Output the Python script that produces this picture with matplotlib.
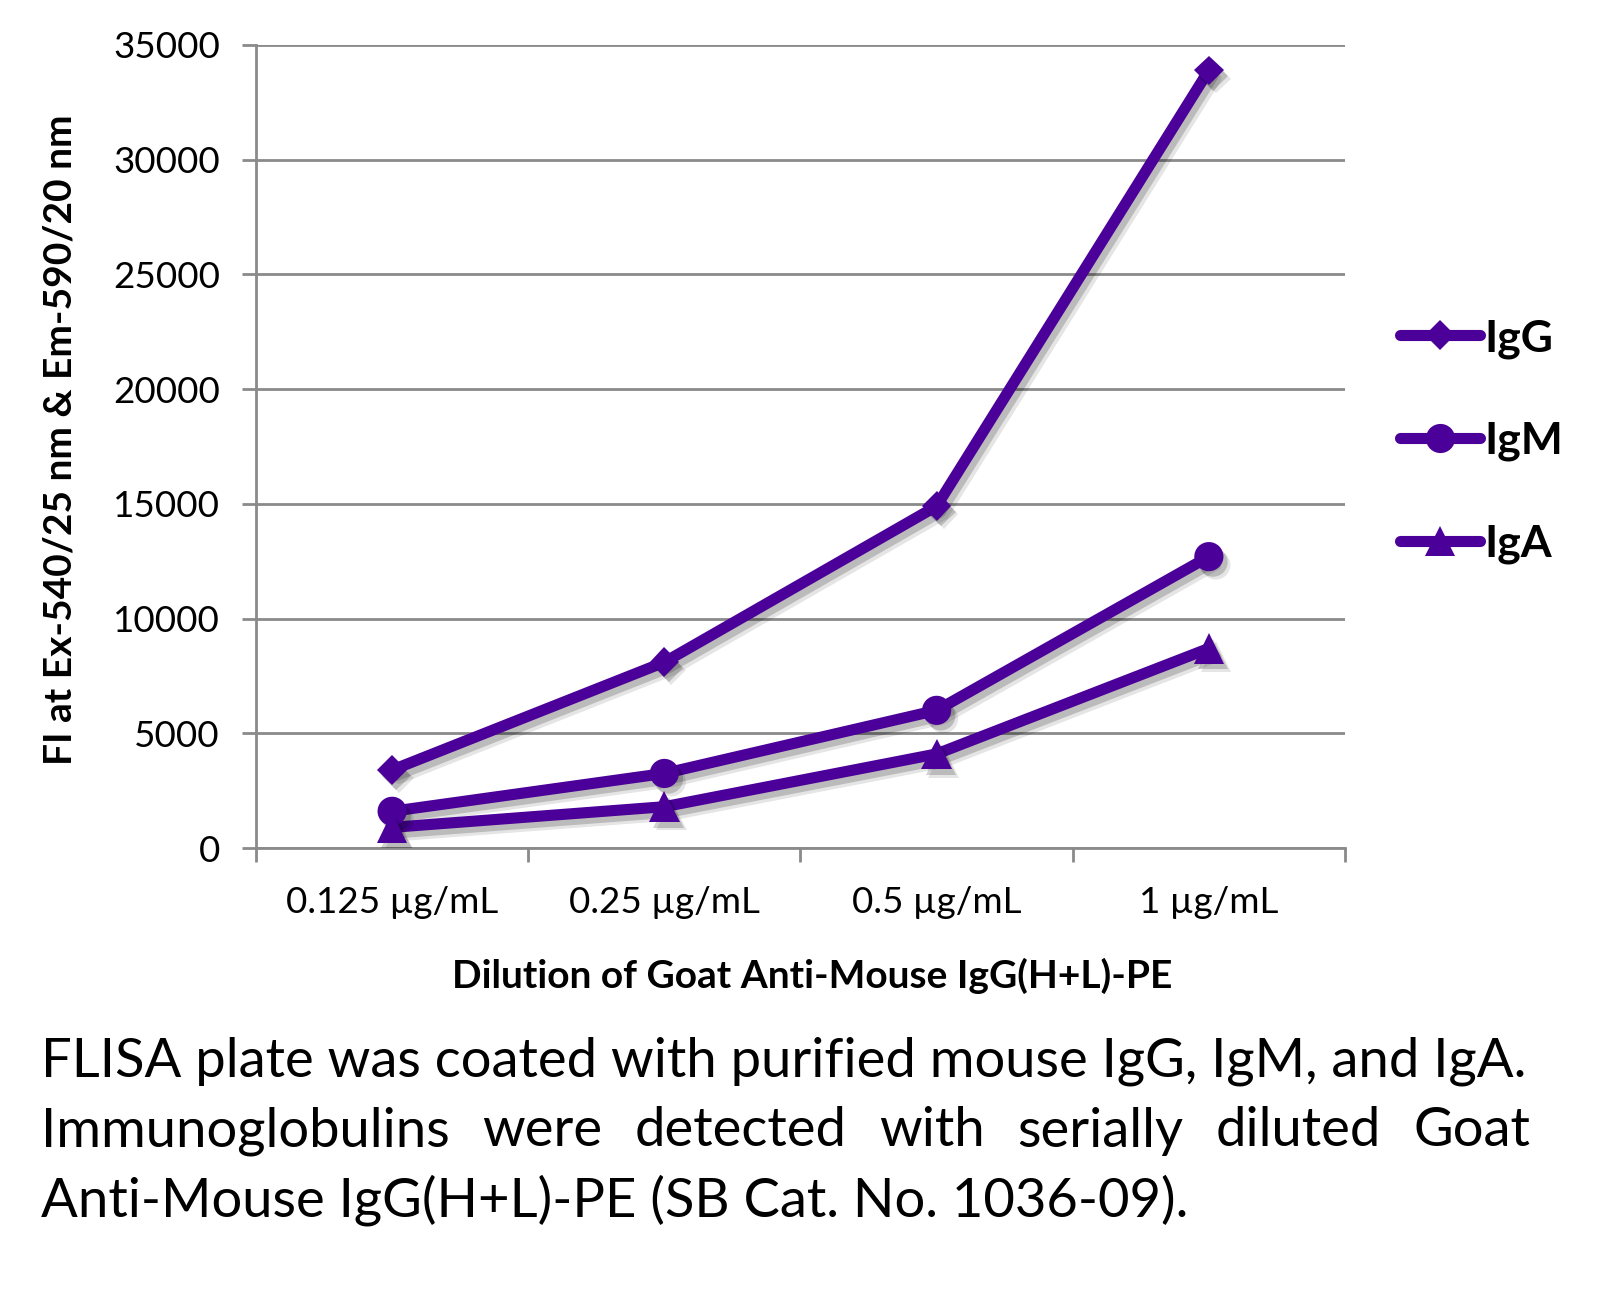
import numpy as np
import matplotlib.pyplot as plt
from matplotlib import patheffects as pe
from matplotlib.lines import Line2D

plt.rcParams['font.family'] = ['Lato', 'DejaVu Sans']

# Data
categories = ['0.125 µg/mL', '0.25 µg/mL', '0.5 µg/mL', '1 µg/mL']
igg = [3400, 8100, 14900, 33900]
igm = [1600, 3250, 6000, 12700]
iga = [900, 1800, 4100, 8700]

purple = '#4a0099'
grid_gray = '#8a8a8a'

W, H = 1608, 1306
fig = plt.figure(figsize=(W / 100, H / 100), dpi=100)
ax = fig.add_axes([256 / W, 1 - 848 / H, (1345 - 256) / W, (848 - 45) / H])

x = np.arange(len(categories))
# soft-ish drop shadow: a few offset copies with low alpha
line_shadow = [pe.SimpleLineShadow(offset=(3, -4), shadow_color='black', alpha=0.18),
               pe.SimpleLineShadow(offset=(5, -6), shadow_color='black', alpha=0.10),
               pe.Normal()]
mark_shadow = [pe.SimplePatchShadow(offset=(3, -4), shadow_rgbFace='black', alpha=0.18),
               pe.SimplePatchShadow(offset=(5, -6), shadow_rgbFace='black', alpha=0.10),
               pe.Normal()]
series = [('IgG', igg, 'D', 15), ('IgM', igm, 'o', 21), ('IgA', iga, '^', 22)]
handles = []
for name, vals, m, ms in series:
    ax.plot(x, vals, color=purple, lw=8, solid_capstyle='round',
            solid_joinstyle='round', path_effects=line_shadow, zorder=3)
    ax.plot(x, vals, ls='none', marker=m, ms=ms, color=purple, mew=0,
            path_effects=mark_shadow, zorder=4)
    handles.append(Line2D([], [], color=purple, lw=8, marker=m, ms=ms, mew=0,
                          solid_capstyle='round', label=name))

ax.set_xlim(-0.5, len(categories) - 0.5)
ax.set_ylim(0, 35000)
ax.set_yticks(np.arange(0, 35001, 5000))
ax.yaxis.grid(True, color=grid_gray, lw=2)
ax.set_axisbelow(True)
for s in ['top', 'right']:
    ax.spines[s].set_visible(False)
for s in ['left', 'bottom']:
    ax.spines[s].set_color(grid_gray)
    ax.spines[s].set_linewidth(2)

ax.set_xticks(x)
ax.set_xticklabels(categories)
ax.set_xticks(np.arange(-0.5, len(categories)), minor=True)
ax.tick_params(axis='x', which='major', length=0, pad=27.5, labelsize=26.5)
ax.tick_params(axis='x', which='minor', length=10, width=2, color=grid_gray)
ax.tick_params(axis='y', length=10, width=2, color=grid_gray, labelsize=26.5, pad=16)

ax.set_ylabel('FI at Ex-540/25 nm & Em-590/20 nm', fontsize=28, fontweight='bold')
ax.yaxis.set_label_coords(-0.164, 0.509)
ax.set_xlabel('Dilution of Goat Anti-Mouse IgG(H+L)-PE', fontsize=28, fontweight='bold')
ax.xaxis.set_label_coords(0.5105, -0.137)

leg = ax.legend(handles=handles, loc='center left', bbox_to_anchor=(1400 / W, 1 - 441 / H),
                bbox_transform=fig.transFigure, frameon=False, borderpad=0,
                borderaxespad=0, handlelength=1.8, handletextpad=0.1,
                labelspacing=1.4, prop={'size': 32, 'weight': 'bold'})

# caption below the chart
caption = ['FLISA plate was coated with purified mouse IgG, IgM, and IgA.',
           'Immunoglobulins were detected with serially diluted Goat',
           'Anti-Mouse IgG(H+L)-PE (SB Cat. No. 1036-09).']
x0, x1 = 41, 1530
ys = [1061, 1131, 1200]
renderer = fig.canvas.get_renderer()
probe = fig.text(0, 0, caption[0], fontsize=36)
fs = 36 * (1528 - x0) / probe.get_window_extent(renderer).width
probe.remove()

fig.text(x0 / W, 1 - ys[0] / H, caption[0], fontsize=fs, va='center')
fig.text(x0 / W, 1 - ys[2] / H, caption[2], fontsize=fs, va='center')
words = caption[1].split()
wt = [fig.text(0, 1 - ys[1] / H, w, fontsize=fs, va='center') for w in words]
widths = [t.get_window_extent(renderer).width for t in wt]
gap = (x1 - x0 - sum(widths)) / (len(words) - 1)
pos = x0
for t, w in zip(wt, widths):
    t.set_x(pos / W)
    pos += w + gap

fig.savefig('out.png', dpi=100)
